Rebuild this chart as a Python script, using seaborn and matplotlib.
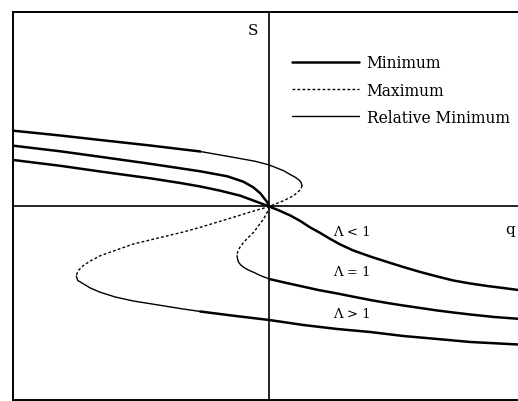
import matplotlib
matplotlib.use("Agg")
import matplotlib.pyplot as plt
from matplotlib.lines import Line2D
import seaborn as sns

sns.set_style("white")
plt.rcParams["font.family"] = ["DejaVu Serif"]
plt.rcParams["text.color"] = "black"

# ---- order parameter S versus field q, read along each branch ----
# Lambda < 1 : single branch, always the minimum
lt1_q = [-2.56, -2.09, -1.69, -1.19, -0.89, -0.69, -0.49, -0.29, -0.12, 0.0,
         0.11, 0.21, 0.31, 0.41, 0.51, 0.61, 0.71, 0.84, 1.01, 1.18, 1.34,
         1.51, 1.68, 1.84, 2.01, 2.18, 2.34, 2.49]
lt1_S = [0.465, 0.407, 0.35, 0.282, 0.235, 0.20, 0.158, 0.108, 0.045, 0.0,
         -0.045, -0.09, -0.145, -0.21, -0.265, -0.325, -0.38, -0.44, -0.50, -0.555, -0.605,
         -0.655, -0.70, -0.74, -0.77, -0.795, -0.815, -0.835]

# Lambda = 1
eq1_upper_q = [-2.56, -2.09, -1.69, -1.19, -0.69, -0.42, -0.26, -0.16, -0.09, -0.04, -0.015, 0.0]
eq1_upper_S = [0.608, 0.552, 0.497, 0.427, 0.352, 0.302, 0.248, 0.192, 0.132, 0.068, 0.035, 0.0]
eq1_max_q = [0.0, -0.02, -0.057, -0.11, -0.157, -0.21, -0.257, -0.295, -0.317, -0.323]
eq1_max_S = [0.0, -0.055, -0.125, -0.195, -0.258, -0.31, -0.358, -0.41, -0.455, -0.492]
eq1_rel_q = [-0.323, -0.317, -0.307, -0.285, -0.257, -0.21, -0.157, -0.09, 0.0]
eq1_rel_S = [-0.492, -0.525, -0.558, -0.585, -0.608, -0.635, -0.658, -0.69, -0.725]
eq1_lower_q = [0.0, 0.16, 0.31, 0.49, 0.68, 0.84, 1.01, 1.18, 1.34, 1.51, 1.68, 1.84, 2.01, 2.25, 2.49]
eq1_lower_S = [-0.725, -0.762, -0.795, -0.835, -0.87, -0.902, -0.935, -0.965, -0.99, -1.015,
               -1.04, -1.06, -1.08, -1.105, -1.123]

# Lambda > 1
gt1_upper_q = [-2.56, -2.09, -1.69, -1.19, -0.69]
gt1_upper_S = [0.758, 0.71, 0.665, 0.61, 0.55]
gt1_uprel_q = [-0.69, -0.36, -0.14, 0.0, 0.143, 0.20, 0.26, 0.297, 0.318, 0.327]
gt1_uprel_S = [0.55, 0.492, 0.452, 0.415, 0.358, 0.325, 0.292, 0.265, 0.24, 0.21]
gt1_max_q = [0.327, 0.318, 0.297, 0.243, 0.143, 0.0, -0.19, -0.36, -0.69, -0.86, -1.36,
             -1.69, -1.79, -1.86, -1.915, -1.93]
gt1_max_S = [0.21, 0.18, 0.155, 0.108, 0.058, 0.0, -0.055, -0.108, -0.208, -0.255, -0.375,
             -0.492, -0.545, -0.59, -0.645, -0.695]
gt1_lorel_q = [-1.93, -1.915, -1.857, -1.79, -1.69, -1.54, -1.36, -1.11, -0.86, -0.69]
gt1_lorel_S = [-0.695, -0.74, -0.775, -0.815, -0.858, -0.905, -0.945, -0.985, -1.025, -1.05]
gt1_lower_q = [-0.69, -0.36, 0.0, 0.34, 0.68, 1.01, 1.34, 1.68, 2.01, 2.49]
gt1_lower_S = [-1.05, -1.092, -1.135, -1.185, -1.225, -1.255, -1.295, -1.325, -1.355, -1.38]

legend_labels = ["Minimum", "Maximum", "Relative Minimum"]
curve_labels = ["\u039b < 1", "\u039b = 1", "\u039b > 1"]

styles = {
    "Minimum": dict(lw=1.8, ls="-"),
    "Maximum": dict(lw=1.0, ls=(0, (2.0, 1.6))),
    "Relative Minimum": dict(lw=1.0, ls="-"),
}

segments = [
    (lt1_q, lt1_S, "Minimum"),
    (eq1_upper_q, eq1_upper_S, "Minimum"),
    (eq1_max_q, eq1_max_S, "Maximum"),
    (eq1_rel_q, eq1_rel_S, "Relative Minimum"),
    (eq1_lower_q, eq1_lower_S, "Minimum"),
    (gt1_upper_q, gt1_upper_S, "Minimum"),
    (gt1_uprel_q, gt1_uprel_S, "Relative Minimum"),
    (gt1_max_q, gt1_max_S, "Maximum"),
    (gt1_lorel_q, gt1_lorel_S, "Relative Minimum"),
    (gt1_lower_q, gt1_lower_S, "Minimum"),
]

fig = plt.figure(figsize=(5.18, 4.02), dpi=100)
W, H = 518, 402
ax = fig.add_axes([13 / W, 1 / H, (W - 13) / W, (401 - 13) / H])

for q, S, kind in segments:
    sns.lineplot(x=q, y=S, sort=False, estimator=None, color="black",
                 ax=ax, legend=False, solid_capstyle="round",
                 solid_joinstyle="round", **styles[kind])

ax.axhline(0, color="black", lw=1.2)
ax.axvline(0, color="black", lw=1.2)

ax.set_xlim(-2.563, 2.487)
ax.set_ylim(-1.935, 1.945)
ax.set_xticks([])
ax.set_yticks([])
ax.set_xlabel("")
ax.set_ylabel("")
for side in ["left", "top", "bottom"]:
    ax.spines[side].set_color("black")
    ax.spines[side].set_linewidth(1.4)
ax.spines["right"].set_visible(False)

# axis names
ax.text(-0.16, 1.76, "S", fontsize=11, ha="center", va="center", color="black")
ax.text(2.41, -0.225, "q", fontsize=11, ha="center", va="center", color="black")

# curve labels
for lab, y in zip(curve_labels, [-0.255, -0.655, -1.075]):
    ax.text(0.64, y, lab, fontsize=9.5, ha="left", va="center", color="black")

handles = [Line2D([], [], color="black", **styles[k]) for k in legend_labels]
ax.legend(handles, legend_labels, loc="upper left", bbox_to_anchor=(0.540, 0.907),
          frameon=False, fontsize=11.2, handlelength=4.3, handletextpad=0.5,
          labelspacing=0.66, borderaxespad=0, labelcolor="black")

fig.savefig("out.png", dpi=100)
